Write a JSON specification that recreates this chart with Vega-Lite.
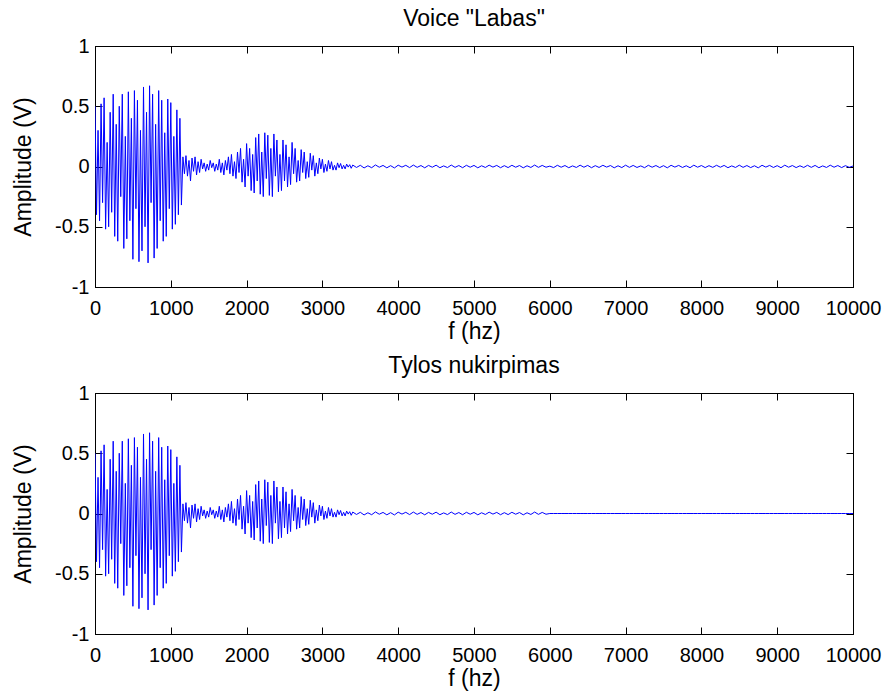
{
 "$schema": "https://vega.github.io/schema/vega-lite/v6.json",
 "padding": {"left": 12, "top": 7, "right": 5, "bottom": 5},
 "background": "white",
 "spacing": 10,
 "config": {
  "font": "Liberation Sans",
  "view": {"stroke": "black", "strokeWidth": 1},
  "axis": {"grid": false, "domainColor": "black", "tickColor": "black", "labelColor": "black", "titleColor": "black", "labelFont": "Liberation Sans", "titleFont": "Liberation Sans", "labelFontSize": 20, "titleFontSize": 23, "titleFontWeight": "normal", "tickSize": -7, "labelOverlap": false, "labelFlush": false},
  "title": {"font": "Liberation Sans", "fontSize": 23, "fontWeight": "normal", "color": "black", "anchor": "middle"}
 },
 "datasets": {"voice": [
{"f":0,"a":0.50,"b":0.50},{"f":20,"a":-0.40,"b":-0.40},{"f":40,"a":0.30,"b":0.30},{"f":60,"a":-0.45,"b":-0.45},{"f":80,"a":0.52,"b":0.52},{"f":100,"a":-0.30,"b":-0.30},{"f":120,"a":0.57,"b":0.57},{"f":140,"a":-0.52,"b":-0.52},{"f":160,"a":0.20,"b":0.20},{"f":180,"a":-0.50,"b":-0.50},
{"f":200,"a":0.45,"b":0.45},{"f":220,"a":-0.38,"b":-0.38},{"f":240,"a":0.60,"b":0.60},{"f":260,"a":-0.58,"b":-0.58},{"f":280,"a":0.35,"b":0.35},{"f":300,"a":-0.62,"b":-0.62},{"f":320,"a":0.50,"b":0.50},{"f":340,"a":-0.25,"b":-0.25},{"f":360,"a":0.60,"b":0.60},{"f":380,"a":-0.68,"b":-0.68},
{"f":400,"a":0.25,"b":0.25},{"f":420,"a":-0.60,"b":-0.60},{"f":440,"a":0.62,"b":0.62},{"f":460,"a":-0.45,"b":-0.45},{"f":480,"a":0.40,"b":0.40},{"f":500,"a":-0.77,"b":-0.77},{"f":520,"a":0.63,"b":0.63},{"f":540,"a":-0.35,"b":-0.35},{"f":560,"a":0.55,"b":0.55},{"f":580,"a":-0.79,"b":-0.79},
{"f":600,"a":0.30,"b":0.30},{"f":620,"a":-0.70,"b":-0.70},{"f":640,"a":0.66,"b":0.66},{"f":660,"a":-0.50,"b":-0.50},{"f":680,"a":0.45,"b":0.45},{"f":700,"a":-0.80,"b":-0.80},{"f":720,"a":0.67,"b":0.67},{"f":740,"a":-0.30,"b":-0.30},{"f":760,"a":0.60,"b":0.60},{"f":780,"a":-0.76,"b":-0.76},
{"f":800,"a":0.35,"b":0.35},{"f":820,"a":-0.68,"b":-0.68},{"f":840,"a":0.63,"b":0.63},{"f":860,"a":-0.45,"b":-0.45},{"f":880,"a":0.55,"b":0.55},{"f":900,"a":-0.62,"b":-0.62},{"f":920,"a":0.28,"b":0.28},{"f":940,"a":-0.58,"b":-0.58},{"f":960,"a":0.56,"b":0.56},{"f":980,"a":-0.35,"b":-0.35},
{"f":1000,"a":0.53,"b":0.53},{"f":1020,"a":-0.52,"b":-0.52},{"f":1040,"a":0.25,"b":0.25},{"f":1060,"a":-0.48,"b":-0.48},{"f":1080,"a":0.47,"b":0.47},{"f":1100,"a":-0.40,"b":-0.40},{"f":1120,"a":0.40,"b":0.40},{"f":1140,"a":-0.32,"b":-0.32},{"f":1160,"a":0.08,"b":0.08},{"f":1180,"a":-0.06,"b":-0.06},
{"f":1200,"a":0.09,"b":0.09},{"f":1220,"a":-0.08,"b":-0.08},{"f":1240,"a":0.05,"b":0.05},{"f":1260,"a":-0.12,"b":-0.12},{"f":1280,"a":0.07,"b":0.07},{"f":1300,"a":-0.04,"b":-0.04},{"f":1320,"a":0.08,"b":0.08},{"f":1340,"a":-0.07,"b":-0.07},{"f":1360,"a":0.04,"b":0.04},{"f":1380,"a":-0.05,"b":-0.05},
{"f":1400,"a":0.06,"b":0.06},{"f":1420,"a":-0.02,"b":-0.02},{"f":1440,"a":0.03,"b":0.03},{"f":1460,"a":-0.04,"b":-0.04},{"f":1480,"a":0.02,"b":0.02},{"f":1500,"a":-0.03,"b":-0.03},{"f":1520,"a":0.05,"b":0.05},{"f":1540,"a":-0.01,"b":-0.01},{"f":1560,"a":0.03,"b":0.03},{"f":1580,"a":-0.04,"b":-0.04},
{"f":1600,"a":0.02,"b":0.02},{"f":1620,"a":-0.03,"b":-0.03},{"f":1640,"a":0.06,"b":0.06},{"f":1660,"a":-0.05,"b":-0.05},{"f":1680,"a":0.03,"b":0.03},{"f":1700,"a":-0.07,"b":-0.07},{"f":1720,"a":0.05,"b":0.05},{"f":1740,"a":-0.03,"b":-0.03},{"f":1760,"a":0.08,"b":0.08},{"f":1780,"a":-0.06,"b":-0.06},
{"f":1800,"a":0.10,"b":0.10},{"f":1820,"a":-0.08,"b":-0.08},{"f":1840,"a":0.04,"b":0.04},{"f":1860,"a":-0.10,"b":-0.10},{"f":1880,"a":0.12,"b":0.12},{"f":1900,"a":-0.05,"b":-0.05},{"f":1920,"a":0.15,"b":0.15},{"f":1940,"a":-0.13,"b":-0.13},{"f":1960,"a":0.06,"b":0.06},{"f":1980,"a":-0.17,"b":-0.17},
{"f":2000,"a":0.19,"b":0.19},{"f":2020,"a":-0.08,"b":-0.08},{"f":2040,"a":0.15,"b":0.15},{"f":2060,"a":-0.20,"b":-0.20},{"f":2080,"a":0.10,"b":0.10},{"f":2100,"a":-0.22,"b":-0.22},{"f":2120,"a":0.24,"b":0.24},{"f":2140,"a":-0.12,"b":-0.12},{"f":2160,"a":0.27,"b":0.27},{"f":2180,"a":-0.23,"b":-0.23},
{"f":2200,"a":0.12,"b":0.12},{"f":2220,"a":-0.25,"b":-0.25},{"f":2240,"a":0.28,"b":0.28},{"f":2260,"a":-0.10,"b":-0.10},{"f":2280,"a":0.26,"b":0.26},{"f":2300,"a":-0.24,"b":-0.24},{"f":2320,"a":0.15,"b":0.15},{"f":2340,"a":-0.25,"b":-0.25},{"f":2360,"a":0.27,"b":0.27},{"f":2380,"a":-0.08,"b":-0.08},
{"f":2400,"a":0.22,"b":0.22},{"f":2420,"a":-0.21,"b":-0.21},{"f":2440,"a":0.10,"b":0.10},{"f":2460,"a":-0.20,"b":-0.20},{"f":2480,"a":0.22,"b":0.22},{"f":2500,"a":-0.12,"b":-0.12},{"f":2520,"a":0.18,"b":0.18},{"f":2540,"a":-0.17,"b":-0.17},{"f":2560,"a":0.08,"b":0.08},{"f":2580,"a":-0.15,"b":-0.15},
{"f":2600,"a":0.20,"b":0.20},{"f":2620,"a":-0.06,"b":-0.06},{"f":2640,"a":0.15,"b":0.15},{"f":2660,"a":-0.13,"b":-0.13},{"f":2680,"a":0.05,"b":0.05},{"f":2700,"a":-0.12,"b":-0.12},{"f":2720,"a":0.14,"b":0.14},{"f":2740,"a":-0.05,"b":-0.05},{"f":2760,"a":0.12,"b":0.12},{"f":2780,"a":-0.10,"b":-0.10},
{"f":2800,"a":0.04,"b":0.04},{"f":2820,"a":-0.09,"b":-0.09},{"f":2840,"a":0.11,"b":0.11},{"f":2860,"a":-0.03,"b":-0.03},{"f":2880,"a":0.09,"b":0.09},{"f":2900,"a":-0.08,"b":-0.08},{"f":2920,"a":0.03,"b":0.03},{"f":2940,"a":-0.06,"b":-0.06},{"f":2960,"a":0.07,"b":0.07},{"f":2980,"a":-0.02,"b":-0.02},
{"f":3000,"a":0.06,"b":0.06},{"f":3020,"a":-0.05,"b":-0.05},{"f":3040,"a":0.02,"b":0.02},{"f":3060,"a":-0.04,"b":-0.04},{"f":3080,"a":0.05,"b":0.05},{"f":3100,"a":-0.02,"b":-0.02},{"f":3120,"a":0.04,"b":0.04},{"f":3140,"a":-0.03,"b":-0.03},{"f":3160,"a":0.01,"b":0.01},{"f":3180,"a":-0.03,"b":-0.03},
{"f":3200,"a":0.03,"b":0.03},{"f":3220,"a":-0.01,"b":-0.01},{"f":3240,"a":0.025,"b":0.025},{"f":3260,"a":-0.02,"b":-0.02},{"f":3280,"a":0.01,"b":0.01},{"f":3300,"a":-0.02,"b":-0.02},{"f":3320,"a":0.02,"b":0.02},{"f":3340,"a":-0.005,"b":-0.005},{"f":3360,"a":0.015,"b":0.015},{"f":3380,"a":-0.015,"b":-0.015},
{"f":3400,"a":0.012,"b":0.012},{"f":3450,"a":-0.008,"b":-0.008},{"f":3500,"a":0.010,"b":0.010},{"f":3550,"a":-0.012,"b":-0.012},{"f":3600,"a":0.006,"b":0.006},{"f":3650,"a":-0.010,"b":-0.010},{"f":3700,"a":0.013,"b":0.013},{"f":3750,"a":-0.006,"b":-0.006},{"f":3800,"a":0.009,"b":0.009},{"f":3850,"a":-0.011,"b":-0.011},
{"f":3900,"a":0.007,"b":0.007},{"f":3950,"a":-0.012,"b":-0.012},{"f":4000,"a":0.011,"b":0.011},{"f":4050,"a":-0.005,"b":-0.005},{"f":4100,"a":0.010,"b":0.010},{"f":4150,"a":-0.009,"b":-0.009},{"f":4200,"a":0.012,"b":0.012},{"f":4250,"a":-0.007,"b":-0.007},{"f":4300,"a":0.008,"b":0.008},{"f":4350,"a":-0.011,"b":-0.011},
{"f":4400,"a":0.009,"b":0.009},{"f":4450,"a":-0.006,"b":-0.006},{"f":4500,"a":0.011,"b":0.011},{"f":4550,"a":-0.010,"b":-0.010},{"f":4600,"a":0.005,"b":0.005},{"f":4650,"a":-0.009,"b":-0.009},{"f":4700,"a":0.012,"b":0.012},{"f":4750,"a":-0.007,"b":-0.007},{"f":4800,"a":0.008,"b":0.008},{"f":4850,"a":-0.010,"b":-0.010},
{"f":4900,"a":0.010,"b":0.010},{"f":4950,"a":-0.006,"b":-0.006},{"f":5000,"a":0.009,"b":0.009},{"f":5050,"a":-0.011,"b":-0.011},{"f":5100,"a":0.006,"b":0.006},{"f":5150,"a":-0.008,"b":-0.008},{"f":5200,"a":0.011,"b":0.011},{"f":5250,"a":-0.005,"b":-0.005},{"f":5300,"a":0.009,"b":0.009},{"f":5350,"a":-0.010,"b":-0.010},
{"f":5400,"a":0.007,"b":0.007},{"f":5450,"a":-0.009,"b":-0.009},{"f":5500,"a":0.010,"b":0.010},{"f":5550,"a":-0.006,"b":-0.006},{"f":5600,"a":0.008,"b":0.008},{"f":5650,"a":-0.011,"b":-0.011},{"f":5700,"a":0.006,"b":0.006},{"f":5750,"a":-0.008,"b":-0.008},{"f":5800,"a":0.012,"b":0.012},{"f":5850,"a":-0.007,"b":-0.007},
{"f":5900,"a":0.009,"b":0.009},{"f":5950,"a":-0.006,"b":-0.006},{"f":6000,"a":0.003,"b":0},{"f":6050,"a":-0.009,"b":0},{"f":6100,"a":0.010,"b":0},{"f":6150,"a":-0.006,"b":0},{"f":6200,"a":0.008,"b":0},{"f":6250,"a":-0.010,"b":0},{"f":6300,"a":0.005,"b":0},{"f":6350,"a":-0.008,"b":0},
{"f":6400,"a":0.011,"b":0},{"f":6450,"a":-0.006,"b":0},{"f":6500,"a":0.009,"b":0},{"f":6550,"a":-0.010,"b":0},{"f":6600,"a":0.007,"b":0},{"f":6650,"a":-0.008,"b":0},{"f":6700,"a":0.010,"b":0},{"f":6750,"a":-0.005,"b":0},{"f":6800,"a":0.008,"b":0},{"f":6850,"a":-0.011,"b":0},
{"f":6900,"a":0.006,"b":0},{"f":6950,"a":-0.009,"b":0},{"f":7000,"a":0.011,"b":0},{"f":7050,"a":-0.007,"b":0},{"f":7100,"a":0.009,"b":0},{"f":7150,"a":-0.008,"b":0},{"f":7200,"a":0.005,"b":0},{"f":7250,"a":-0.010,"b":0},{"f":7300,"a":0.010,"b":0},{"f":7350,"a":-0.006,"b":0},
{"f":7400,"a":0.008,"b":0},{"f":7450,"a":-0.009,"b":0},{"f":7500,"a":0.007,"b":0},{"f":7550,"a":-0.011,"b":0},{"f":7600,"a":0.010,"b":0},{"f":7650,"a":-0.005,"b":0},{"f":7700,"a":0.009,"b":0},{"f":7750,"a":-0.008,"b":0},{"f":7800,"a":0.006,"b":0},{"f":7850,"a":-0.010,"b":0},
{"f":7900,"a":0.011,"b":0},{"f":7950,"a":-0.006,"b":0},{"f":8000,"a":0.008,"b":0},{"f":8050,"a":-0.009,"b":0},{"f":8100,"a":0.007,"b":0},{"f":8150,"a":-0.007,"b":0},{"f":8200,"a":0.010,"b":0},{"f":8250,"a":-0.006,"b":0},{"f":8300,"a":0.009,"b":0},{"f":8350,"a":-0.010,"b":0},
{"f":8400,"a":0.005,"b":0},{"f":8450,"a":-0.008,"b":0},{"f":8500,"a":0.011,"b":0},{"f":8550,"a":-0.007,"b":0},{"f":8600,"a":0.008,"b":0},{"f":8650,"a":-0.009,"b":0},{"f":8700,"a":0.006,"b":0},{"f":8750,"a":-0.011,"b":0},{"f":8800,"a":0.010,"b":0},{"f":8850,"a":-0.005,"b":0},
{"f":8900,"a":0.009,"b":0},{"f":8950,"a":-0.008,"b":0},{"f":9000,"a":0.007,"b":0},{"f":9050,"a":-0.010,"b":0},{"f":9100,"a":0.011,"b":0},{"f":9150,"a":-0.006,"b":0},{"f":9200,"a":0.008,"b":0},{"f":9250,"a":-0.009,"b":0},{"f":9300,"a":0.006,"b":0},{"f":9350,"a":-0.008,"b":0},
{"f":9400,"a":0.010,"b":0},{"f":9450,"a":-0.007,"b":0},{"f":9500,"a":0.009,"b":0},{"f":9550,"a":-0.010,"b":0},{"f":9600,"a":0.005,"b":0},{"f":9650,"a":-0.008,"b":0},{"f":9700,"a":0.011,"b":0},{"f":9750,"a":-0.006,"b":0},{"f":9800,"a":0.008,"b":0},{"f":9850,"a":-0.009,"b":0},
{"f":9900,"a":0.007,"b":0},{"f":9950,"a":-0.007,"b":0},{"f":10000,"a":0.004,"b":0}
 ]},
 "vconcat": [
  {
   "title": {"text": "Voice \"Labas\"", "offset": 5},
   "width": 758, "height": 241,
   "data": {"name": "voice"},
   "layer": [
    {"mark": {"type": "line", "color": "#0000ff", "strokeWidth": 1, "clip": true},
     "encoding": {
      "x": {"field": "f", "type": "quantitative", "scale": {"domain": [0, 10000], "nice": false},
            "axis": {"orient": "bottom", "values": [0,1000,2000,3000,4000,5000,6000,7000,8000,9000,10000], "labelExpr": "'' + datum.value", "title": "f (hz)", "labelPadding": 18, "titlePadding": 2}},
      "y": {"field": "a", "type": "quantitative", "scale": {"domain": [-1, 1], "nice": false},
            "axis": {"orient": "left", "values": [-1,-0.5,0,0.5,1], "labelExpr": "'' + datum.value", "title": "Amplitude (V)", "labelPadding": 13, "titlePadding": 19}}
     }},
    {"mark": {"type": "line", "opacity": 0},
     "encoding": {
      "x": {"field": "f", "type": "quantitative", "axis": {"orient": "top", "values": [0,1000,2000,3000,4000,5000,6000,7000,8000,9000,10000], "labels": false, "title": null}},
      "y": {"field": "a", "type": "quantitative", "axis": {"orient": "right", "values": [-1,-0.5,0,0.5,1], "labels": false, "title": null}}
     }}
   ],
   "resolve": {"axis": {"x": "independent", "y": "independent"}}
  },
  {
   "title": {"text": "Tylos nukirpimas", "offset": 5},
   "width": 758, "height": 241,
   "data": {"name": "voice"},
   "layer": [
    {"mark": {"type": "line", "color": "#0000ff", "strokeWidth": 1, "clip": true},
     "encoding": {
      "x": {"field": "f", "type": "quantitative", "scale": {"domain": [0, 10000], "nice": false},
            "axis": {"orient": "bottom", "values": [0,1000,2000,3000,4000,5000,6000,7000,8000,9000,10000], "labelExpr": "'' + datum.value", "title": "f (hz)", "labelPadding": 18, "titlePadding": 2}},
      "y": {"field": "b", "type": "quantitative", "scale": {"domain": [-1, 1], "nice": false},
            "axis": {"orient": "left", "values": [-1,-0.5,0,0.5,1], "labelExpr": "'' + datum.value", "title": "Amplitude (V)", "labelPadding": 13, "titlePadding": 19}}
     }},
    {"mark": {"type": "line", "opacity": 0},
     "encoding": {
      "x": {"field": "f", "type": "quantitative", "axis": {"orient": "top", "values": [0,1000,2000,3000,4000,5000,6000,7000,8000,9000,10000], "labels": false, "title": null}},
      "y": {"field": "b", "type": "quantitative", "axis": {"orient": "right", "values": [-1,-0.5,0,0.5,1], "labels": false, "title": null}}
     }}
   ],
   "resolve": {"axis": {"x": "independent", "y": "independent"}}
  }
 ]
}
